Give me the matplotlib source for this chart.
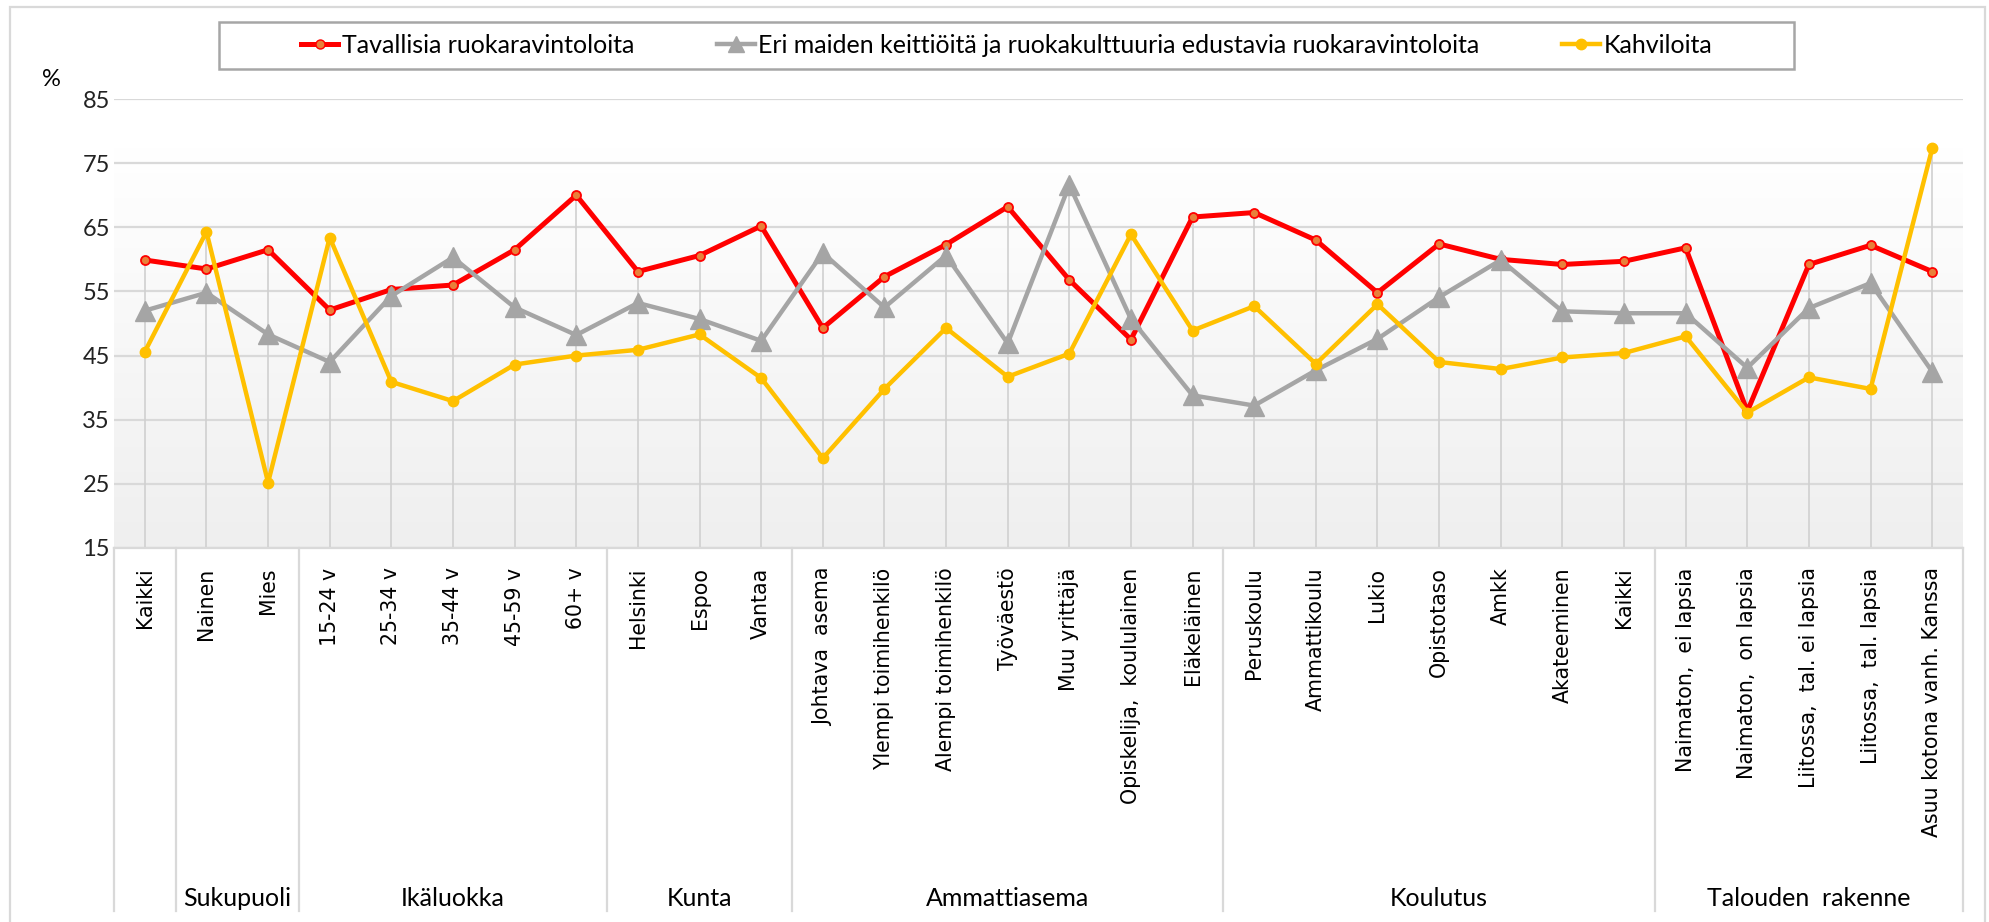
import numpy as np
import matplotlib.pyplot as plt
from matplotlib.patches import Rectangle
from matplotlib.lines import Line2D

# Category labels (x axis) and their groups
categories = [
    "Kaikki", "Nainen", "Mies",
    "15-24 v", "25-34 v", "35-44 v", "45-59 v", "60+ v",
    "Helsinki", "Espoo", "Vantaa",
    "Johtava  asema", "Ylempi toimihenkilö", "Alempi toimihenkilö", "Työväestö",
    "Muu yrittäjä", "Opiskelija,  koululainen", "Eläkeläinen",
    "Peruskoulu", "Ammattikoulu", "Lukio", "Opistotaso", "Amkk", "Akateeminen", "Kaikki",
    "Naimaton,  ei lapsia", "Naimaton,  on lapsia", "Liitossa,  tal. ei lapsia",
    "Liitossa,  tal. lapsia", "Asuu kotona vanh. Kanssa",
]
groups = ["", "Sukupuoli", "Ikäluokka", "Kunta", "Ammattiasema", "Koulutus", "Talouden  rakenne"]
group_sizes = [1, 2, 5, 3, 7, 7, 5]

series_names = [
    "Tavallisia ruokaravintoloita",
    "Eri maiden keittiöitä ja ruokakulttuuria edustavia ruokaravintoloita",
    "Kahviloita",
]

# Values (%)
tavalliset = [59.9, 58.5, 61.5, 52.1, 55.3, 56.0, 61.5, 70.0, 58.1, 60.6,
              65.2, 49.3, 57.3, 62.3, 68.2, 56.8, 47.5, 66.6, 67.3, 63.0,
              54.8, 62.4, 60.0, 59.2, 59.7, 61.8, 36.3, 59.2, 62.2, 58.1]
eri_maiden = [52.0, 54.8, 48.3, 44.0, 54.3, 60.3, 52.5, 48.2, 53.2, 50.7,
              47.3, 61.0, 52.5, 60.6, 46.9, 71.6, 50.7, 38.8, 37.2, 42.7,
              47.6, 54.1, 59.9, 51.9, 51.6, 51.6, 43.1, 52.4, 56.3, 42.5]
kahvilat = [45.6, 64.3, 25.2, 63.4, 40.9, 37.9, 43.6, 45.0, 45.9, 48.3,
            41.5, 29.0, 39.8, 49.3, 41.7, 45.3, 63.9, 48.9, 52.7, 43.7,
            53.0, 44.0, 42.9, 44.7, 45.4, 48.0, 36.1, 41.6, 39.8, 77.3]

W, H = 1990, 922
fig = plt.figure(figsize=(W / 100, H / 100), dpi=100)

label_font = "Lato"
grid_col = "#D9D9D9"

# axes placement in pixels
left, right, top, bottom = 114, 1963, 99, 548
ax = fig.add_axes([left / W, 1 - bottom / H, (right - left) / W, (bottom - top) / H])

x = np.arange(len(categories))
ax.set_xlim(-0.5, len(categories) - 0.5)
ax.set_ylim(15, 85)

# gradient fill of plot area
grad = np.linspace(0, 1, 256).reshape(-1, 1)
cmap = plt.matplotlib.colors.LinearSegmentedColormap.from_list("g", ["#EFEFEF", "#FFFFFF"])
ax.imshow(grad, extent=(-0.5, len(categories) - 0.5, 15, 77.5), origin="lower",
          aspect="auto", cmap=cmap, zorder=0)

ax.set_yticks(np.arange(15, 86, 10))
ax.grid(axis="y", color=grid_col, lw=1.6, zorder=1)
ax.set_axisbelow(True)

# drop lines
top_vals = np.maximum(np.maximum(tavalliset, eri_maiden), kahvilat)
ax.vlines(x, 15, top_vals, color="#D0D0D0", lw=1.2, zorder=2)

ax.plot(x, tavalliset, color="#FF0000", lw=3.6, marker="o", ms=6.5,
        mfc="#E8803A", mec="#FF0000", mew=1.3, zorder=3, solid_joinstyle="round")
ax.plot(x, eri_maiden, color="#A5A5A5", lw=3.2, marker="^", ms=15,
        mfc="#A5A5A5", mec="#A5A5A5", zorder=4, solid_joinstyle="round")
ax.plot(x, kahvilat, color="#FFC000", lw=3.2, marker="o", ms=7.5,
        mfc="#FFC000", mec="#FFC000", zorder=5, solid_joinstyle="round")

for s in ["top", "right", "left"]:
    ax.spines[s].set_visible(False)
ax.spines["bottom"].set_color(grid_col)
ax.spines["bottom"].set_linewidth(1.6)

ax.set_xticks(x)
ax.set_xticklabels(categories, rotation=90, va="top", ha="center",
                   fontsize=14.8, family="DejaVu Sans", color="black")
ax.tick_params(axis="x", length=0, pad=14)
ax.tick_params(axis="y", length=0, pad=3, labelsize=17, labelcolor="#222222")
for t in ax.get_yticklabels():
    t.set_family(label_font)

# group separators and group labels under the axis
y_sep = -(911 - bottom) / (bottom - top)
y_grp = -(898 - bottom) / (bottom - top)
bounds = np.concatenate([[-0.5], np.cumsum(group_sizes) - 0.5])
for b in bounds:
    ax.plot([b, b], [0, y_sep], transform=ax.get_xaxis_transform(),
            color=grid_col, lw=1.6, clip_on=False)
for g, lo, hi in zip(groups, bounds[:-1], bounds[1:]):
    if g:
        ax.text((lo + hi) / 2, y_grp, g, transform=ax.get_xaxis_transform(),
                ha="center", va="center", fontsize=18, family=label_font)

# percent sign
fig.text(51 / W, 1 - 79 / H, "%", ha="center", va="center", fontsize=17, family=label_font)

# outer chart border
fig.patches.append(Rectangle((10 / W, -0.01), (1985 - 10) / W, 1.01 - 7 / H,
                             transform=fig.transFigure, fill=False,
                             ec=grid_col, lw=1.6))

# legend box
lx0, lx1, ly0, ly1 = 219, 1794, 22, 69
fig.patches.append(Rectangle((lx0 / W, 1 - ly1 / H), (lx1 - lx0) / W, (ly1 - ly0) / H,
                             transform=fig.transFigure, fill=False, ec="#A6A6A6", lw=1.8))
handles = [
    Line2D([], [], color="#FF0000", lw=3.6, marker="o", ms=6.5, mfc="#E8803A", mec="#FF0000"),
    Line2D([], [], color="#A5A5A5", lw=3.2, marker="^", ms=11, mfc="#A5A5A5", mec="#A5A5A5"),
    Line2D([], [], color="#FFC000", lw=3.2, marker="o", ms=7.5, mfc="#FFC000", mec="#FFC000"),
]
fig.legend(handles, series_names, loc="center", ncol=3, frameon=False,
           bbox_to_anchor=((lx0 + lx1) / 2 / W, 1 - (ly0 + ly1) / 2 / H),
           prop={"family": label_font, "size": 18}, handlelength=1.5,
           handletextpad=0.15, columnspacing=3.3)

fig.savefig("out.png", dpi=100, facecolor="white")
